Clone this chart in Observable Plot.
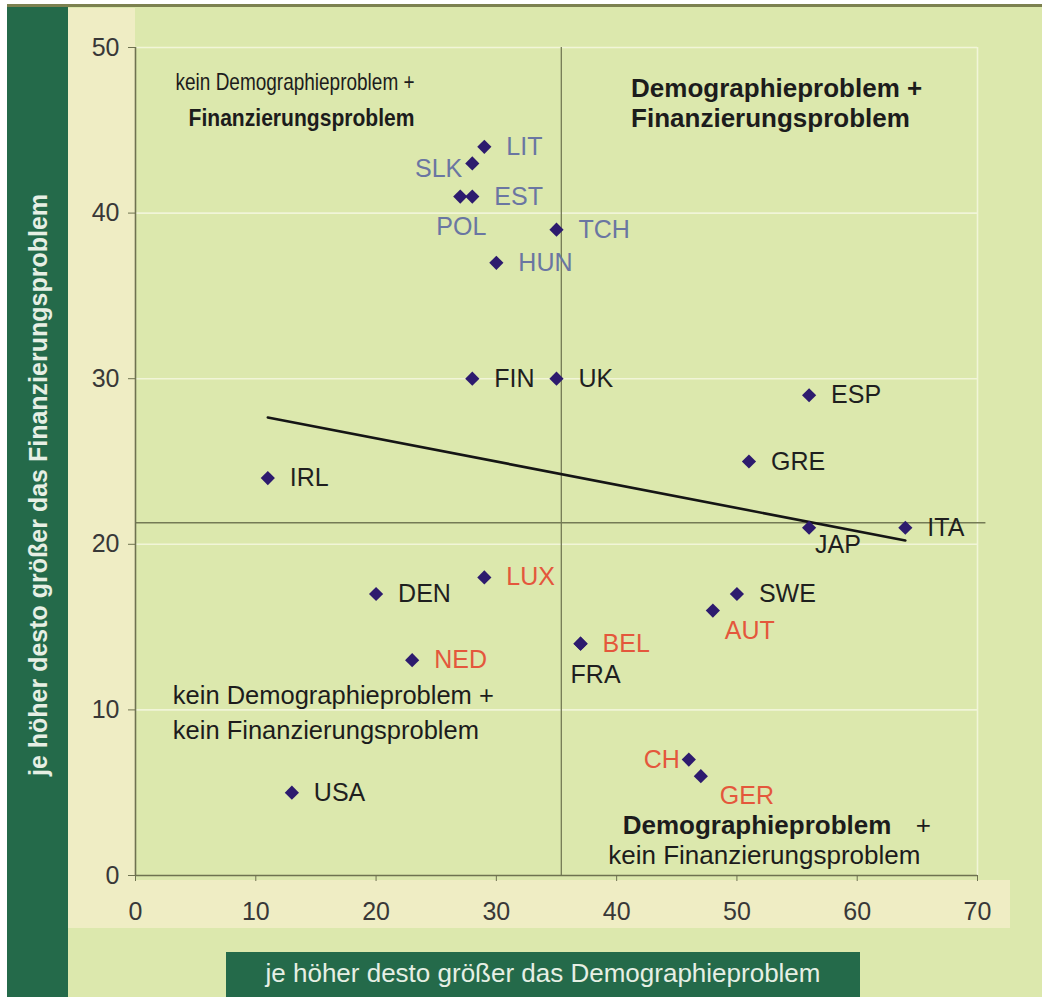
<!DOCTYPE html>
<html>
<head>
<meta charset="utf-8">
<script src="https://cdn.jsdelivr.net/npm/d3@7"></script>
<script src="https://cdn.jsdelivr.net/npm/@observablehq/plot@0.6"></script>
<style>
  body { margin: 0; background: #ffffff; }
  #wrap { position: relative; width: 1042px; height: 997px; overflow: hidden; font-family: "Liberation Sans", Arial, sans-serif; }
  .abs { position: absolute; }
  #chart { position: absolute; left: 0; top: 0; }
</style>
</head>
<body>
<div id="wrap">
  <div class="abs" style="left:7px;top:4px;width:1035px;height:3px;background:#7c8150"></div>
  <div class="abs" style="left:68px;top:7px;width:974px;height:990px;background:#dce8ad"></div>
  <div class="abs" style="left:7px;top:7px;width:61px;height:990px;background:#246a4a"></div>
  <div class="abs" style="left:68px;top:8px;width:67px;height:920px;background:#efedc4"></div>
  <div class="abs" style="left:68px;top:880px;width:942px;height:48px;background:#efedc4"></div>
  <div class="abs" style="left:226px;top:952px;width:634px;height:45px;background:#246a4a"></div>
  <div id="xtitle" class="abs" style="left:543px;top:973px;transform:translate(-50%,-50%);white-space:nowrap;color:#e6efe4;font-size:26px;"></div>
  <div id="ytitle" class="abs" style="left:38px;top:485px;transform:translate(-50%,-50%) rotate(-90deg);white-space:nowrap;color:#e6efe4;font-size:25px;font-weight:bold;"></div>
  <div id="chart"></div>
</div>
<script>
// ---- data ----
const countries    = ["LIT","SLK","EST","POL","TCH","HUN","FIN","UK","ESP","GRE","IRL","JAP","ITA","LUX","DEN","SWE","AUT","BEL","FRA","NED","CH","GER","USA"];
const demographie  = [29, 28, 28, 27, 35, 30, 28, 35, 56, 51, 11, 56, 64, 29, 20, 50, 48, 37, 37, 23, 46, 47, 13];
const finanzierung = [44, 43, 41, 41, 39, 37, 30, 30, 29, 25, 24, 21, 21, 18, 17, 17, 16, 14, 14, 13,  7,  6,  5];
const gruppe       = ["MOE","MOE","MOE","MOE","MOE","MOE","übrige","übrige","übrige","übrige","übrige","übrige","übrige",
                      "Sozialvers.","übrige","übrige","Sozialvers.","Sozialvers.","übrige","Sozialvers.","Sozialvers.","Sozialvers.","übrige"];
const trendX = [11, 64];
const trendY = [27.66, 20.23];
const refX = 35.4;   // vertical separator
const refY = 21.3;   // horizontal separator
const xTicks = [0, 10, 20, 30, 40, 50, 60, 70];
const yTicks = [0, 10, 20, 30, 40, 50];
const xTitle = "je höher desto größer das Demographieproblem";
const yTitle = "je höher desto größer das Finanzierungsproblem";
const quadrantTexts = [
  {id: "tl1", text: "kein Demographieproblem +", x: 3.33, y: 47.9, bold: false},
  {id: "tl2", text: "Finanzierungsproblem", x: 4.41, y: 45.7, bold: true},
  {id: "tr1", text: "Demographieproblem +", x: 41.2, y: 47.5, bold: true},
  {id: "tr2", text: "Finanzierungsproblem", x: 41.2, y: 45.7, bold: true},
  {id: "bl1", text: "kein Demographieproblem +", x: 3.1, y: 10.87, bold: false},
  {id: "bl2", text: "kein Finanzierungsproblem", x: 3.1, y: 8.76, bold: false},
  {id: "br1", text: "Demographieproblem", x: 40.5, y: 3.02, bold: true},
  {id: "br1p", text: "+", x: 65.5, y: 3.02, bold: false},
  {id: "br2", text: "kein Finanzierungsproblem", x: 39.3, y: 1.21, bold: false}
];

// ---- build table ----
const data = countries.map((c, i) => ({name: c, x: demographie[i], y: finanzierung[i], g: gruppe[i]}));
const trend = trendX.map((x, i) => ({x, y: trendY[i]}));

const groupColor = {"MOE": "#6a76a2", "Sozialvers.": "#e4573c", "übrige": "#1f1f1f"};

// label placement (pixel offsets from the diamond)
const placement = {
  SLK: {dx: -10, dy: 6, anchor: "end"},
  CH:  {dx: -9,  dy: 0, anchor: "end"},
  POL: {dx: 1,   dy: 30, anchor: "middle"},
  JAP: {dx: 6,   dy: 17, anchor: "start"},
  FRA: {dx: -10, dy: 31, anchor: "start"},
  AUT: {dx: 12,  dy: 20, anchor: "start"},
  GER: {dx: 19,  dy: 20, anchor: "start"}
};
const defaultPlacement = {dx: 22, dy: 0, anchor: "start"};

const labelMarks = [];
const keys = [...new Set(data.map(d => placement[d.name] ? d.name : "_default"))];
for (const k of keys) {
  const p = k === "_default" ? defaultPlacement : placement[k];
  const subset = data.filter(d => (placement[d.name] ? d.name : "_default") === k);
  labelMarks.push(Plot.text(subset, {
    x: "x", y: "y", text: "name", dx: p.dx, dy: p.dy, textAnchor: p.anchor,
    fill: d => groupColor[d.g], fontSize: 25
  }));
}

const font = '"Liberation Sans", Arial, sans-serif';
const quadMarks = quadrantTexts.map(q => Plot.text([q], {
  x: "x", y: "y", text: "text",
  textAnchor: q.id === "br1p" ? "middle" : "start",
  fontWeight: q.bold ? "bold" : "normal",
  fontSize: q.id.startsWith("tl") ? 24 : (q.id.startsWith("bl") ? 25.5 : 26),
  fill: "#1c1c1c",
  ariaLabel: () => "quad-" + q.id
}));

const chart = Plot.plot({
  width: 1042,
  height: 997,
  marginLeft: 135,
  marginRight: 65,
  marginTop: 47,
  marginBottom: 122,
  x: {domain: [0, 70]},
  y: {domain: [0, 50]},
  style: {background: "transparent", fontFamily: font, overflow: "visible"},
  marks: [
    Plot.ruleY(yTicks.filter(t => t > 0), {stroke: "#f1f5d8", strokeWidth: 1.6}),
    Plot.ruleX([70], {stroke: "#f1f5d8", strokeWidth: 1.6}),
    Plot.ruleX([refX], {stroke: "#747a55", strokeWidth: 1.3}),
    Plot.ruleY([refY], {x1: 0, x2: 70.7, stroke: "#747a55", strokeWidth: 1.3}),
    Plot.ruleX([0], {stroke: "#6e7250", strokeWidth: 1.6}),
    Plot.ruleY([0], {stroke: "#6e7250", strokeWidth: 1.6}),
    Plot.axisY({ticks: yTicks, tickSize: 7, tickPadding: 9, fontSize: 25, stroke: "#6e7250", fill: "#383838", label: null}),
    Plot.axisX({ticks: xTicks, tickSize: 6, tickPadding: 21, fontSize: 25, stroke: "#6e7250", fill: "#383838", label: null}),
    ...quadMarks,
    Plot.line(trend, {x: "x", y: "y", stroke: "#151515", strokeWidth: 2.6}),
    Plot.dot(data, {x: "x", y: "y", symbol: "diamond2", r: 6.4, fill: "#2d1b6e", stroke: "none"}),
    ...labelMarks
  ]
});

// condense the top-left quadrant text as in the reference
const tlWidths = {"kein Demographieproblem +": 239, "Finanzierungsproblem": 226};
chart.querySelectorAll("text").forEach(t => {
  const lab = t.getAttribute("aria-label") || "";
  if (lab.startsWith("quad-tl")) {
    const w = tlWidths[t.textContent];
    if (w) {
      t.setAttribute("textLength", w);
      t.setAttribute("lengthAdjust", "spacingAndGlyphs");
    }
  }
});

document.getElementById("chart").appendChild(chart);
document.getElementById("xtitle").textContent = xTitle;
document.getElementById("ytitle").textContent = yTitle;
</script>
</body>
</html>
